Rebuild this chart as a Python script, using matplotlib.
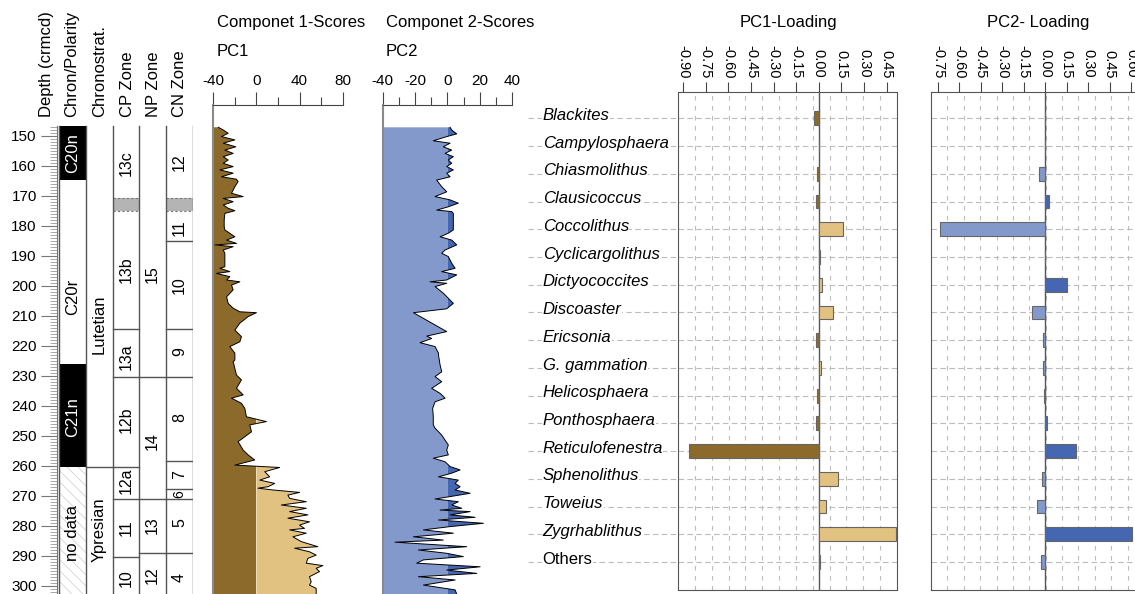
import matplotlib
matplotlib.use("Agg")
import matplotlib.pyplot as plt
import numpy as np
from matplotlib.patches import Rectangle
from matplotlib.transforms import blended_transform_factory

plt.rcParams['font.family'] = ['Liberation Sans', 'DejaVu Sans']
plt.rcParams['axes.unicode_minus'] = False
plt.rcParams['hatch.color'] = '#cccccc'
plt.rcParams['hatch.linewidth'] = 0.5

# ---------------- data ----------------
# stratigraphy (depth in crmcd)
col_top = 146.7
depth_bottom = 302.7

chron_names = ['C20n', 'C20r', 'C21n', 'no data']
chron_tops = [146.7, 164.7, 226.1, 260.2]
chron_bases = [164.7, 226.1, 260.2, 302.7]
chron_label_depth = [155.7, 203.7, 243.6, 282.4]

stage_names = ['Lutetian', 'Ypresian']
stage_bounds = [260.2]
stage_label_depth = [212.7, 281.3]

cp_names = ['13c', '13b', '13a', '12b', '12a', '11', '10']
cp_bounds = [214.4, 230.4, 260.2, 271.1, 290.4]
cp_label_depth = [159.0, 194.4, 223.6, 244.7, 265.0, 280.7, 297.3]

np_names = ['15', '14', '13', '12']
np_bounds = [230.4, 271.1, 288.9]
np_label_depth = [196.0, 251.7, 279.7, 296.3]

cn_names = ['12', '11', '10', '9', '8', '7', '6', '5', '4']
cn_bounds = [184.9, 214.4, 230.4, 258.2, 267.8, 270.9, 288.9]
cn_label_depth = [158.7, 180.7, 199.7, 222.0, 244.0, 263.0, 269.3, 279.0, 297.3]

gap_band = (170.7, 175.1)

# PC1 scores
pc1_depth = [147.1, 148.0, 149.1, 150.2, 151.3, 152.4, 153.6, 154.7, 155.8, 156.9,
             158.0, 159.1, 160.2, 161.3, 162.4, 163.6, 164.4, 165.2, 166.9, 169.1,
             170.2, 170.8, 171.9, 173.0, 174.1, 174.9, 175.8, 178.0, 180.2, 181.3,
             183.6, 184.7, 185.8, 186.3, 186.9, 188.0, 189.1, 190.2, 193.6, 194.1,
             195.2, 195.8, 196.9, 198.0, 198.6, 199.7, 201.3, 203.6, 205.8, 207.4,
             208.6, 208.9, 210.2, 212.4, 214.7, 216.9, 218.6, 220.2, 222.4, 224.7,
             225.2, 229.7, 231.3, 234.1, 236.3, 237.4, 239.1, 240.8, 243.6, 245.2,
             246.3, 248.6, 251.9, 254.7, 256.3, 258.0, 259.7, 260.5, 261.9, 263.6,
             264.7, 265.8, 266.9, 267.4, 268.0, 268.8, 269.7, 270.8, 271.9, 273.0,
             274.1, 275.2, 276.3, 277.4, 278.6, 279.7, 280.8, 281.3, 282.4, 283.6,
             285.2, 286.9, 287.4, 288.6, 289.7, 290.8, 292.4, 293.2, 294.1, 295.2,
             296.9, 298.6, 299.7, 300.8, 301.9, 302.7]
pc1_score = [-35.4, -30.8, -26.2, -32.4, -20.0, -30.8, -19.1, -29.3, -21.6, -30.8,
             -26.2, -30.8, -21.6, -33.9, -21.6, -32.4, -18.5, -17.0, -20.0, -23.1,
             -12.3, -30.8, -21.6, -30.8, -26.2, -20.0, -29.3, -29.9, -29.9, -29.3,
             -20.0, -27.7, -18.5, -38.5, -21.6, -30.8, -29.3, -29.3, -29.3, -33.9,
             -24.7, -37.0, -24.7, -27.7, -15.4, -23.1, -21.6, -27.7, -26.2, -21.6,
             -15.4, 0.0, -7.7, -15.4, -20.0, -13.9, -15.4, -24.7, -20.0, -20.0,
             -21.6, -18.5, -13.9, -18.5, -12.3, -23.1, -13.9, -10.8, -9.3, 9.2,
             -6.2, -4.6, -17.0, -12.3, -7.7, -1.6, -20.0, 21.5, 7.7, 12.3,
             3.1, 16.9, 10.8, 1.5, 15.4, 40.0, 29.2, 30.8, 46.2, 23.1,
             46.2, 30.8, 47.7, 29.2, 49.2, 40.0, 44.6, 30.8, 46.2, 33.8,
             41.5, 56.9, 35.4, 49.2, 55.4, 47.7, 46.2, 61.6, 55.4, 58.5,
             49.2, 50.8, 49.2, 55.4, 55.4, 55.4]

# PC2 scores
pc2_depth = [147.1, 148.0, 149.3, 150.2, 151.6, 152.4, 153.6, 154.7, 155.8, 156.9,
             158.0, 159.1, 160.2, 161.3, 162.4, 163.6, 164.7, 166.9, 168.6, 170.2,
             171.3, 172.4, 173.6, 174.7, 175.2, 175.8, 181.3, 182.4, 183.6, 184.7,
             186.3, 188.0, 189.1, 190.2, 192.4, 194.1, 195.2, 196.3, 198.0, 198.6,
             199.1, 200.2, 202.4, 204.7, 205.8, 207.6, 208.9, 215.2, 216.7, 217.5,
             218.9, 220.2, 222.4, 223.0, 226.3, 228.6, 230.2, 231.9, 234.1, 235.8,
             237.4, 238.6, 240.8, 243.6, 246.3, 247.4, 249.7, 253.0, 254.7, 256.3,
             257.4, 258.6, 260.2, 261.3, 262.4, 263.6, 264.7, 265.8, 266.9, 268.0,
             269.1, 270.2, 271.0, 271.9, 273.0, 274.1, 274.7, 275.2, 276.3, 277.1,
             278.0, 279.1, 280.2, 281.3, 282.4, 283.6, 284.7, 285.4, 286.9, 288.0,
             289.1, 290.2, 291.3, 292.4, 293.6, 294.7, 295.8, 296.9, 298.0, 299.7,
             301.3, 302.7]
pc2_score = [1.7, 2.7, 5.8, -0.4, -8.7, 1.7, -2.5, 2.7, -1.4, 3.7,
             0.6, 2.7, -0.4, 3.7, -0.4, 1.7, -6.6, -3.5, -0.4, -7.6,
             1.7, 6.8, 0.6, -6.6, 2.7, 3.7, 3.7, 0.6, -4.5, 2.7,
             5.8, -1.4, -3.5, 0.6, 2.7, 4.8, -3.5, 5.8, -0.4, -10.7,
             -0.4, -7.6, -2.5, 1.7, 3.7, -0.4, -21.0, -0.4, -12.8, -9.7,
             -16.9, -7.6, -5.5, -5.5, -4.5, -3.5, -7.6, -3.5, -9.7, -4.5,
             -1.4, -7.6, -9.1, -8.7, -8.7, -7.6, -3.5, 0.6, -0.4, 0.6,
             -8.7, -1.4, 1.7, 7.9, 2.7, -5.5, 6.8, 4.8, 7.9, 4.8,
             14.1, 1.7, -7.6, 6.8, 2.7, 8.9, -4.5, 14.1, 1.7, 17.2,
             -5.5, 22.3, 1.7, -14.8, 3.7, -21.0, -2.5, -32.4, 12.0, -17.9,
             -0.4, 9.9, -14.8, -19.0, 20.3, -0.4, 18.2, -17.9, 4.8, -14.8,
             4.8, 5.8]

# loadings
taxa = ['Blackites', 'Campylosphaera', 'Chiasmolithus', 'Clausicoccus', 'Coccolithus',
        'Cyclicargolithus', 'Dictyococcites', 'Discoaster', 'Ericsonia', 'G. gammation',
        'Helicosphaera', 'Ponthosphaera', 'Reticulofenestra', 'Sphenolithus', 'Toweius',
        'Zygrhablithus', 'Others']
pc1_loading = [-0.034, -0.002, -0.010, -0.020, 0.158, 0.008, 0.021, 0.091, -0.019, 0.012,
               -0.012, -0.019, -0.862, 0.125, 0.045, 0.511, 0.008]
pc2_loading = [0.0, 0.0, -0.042, 0.026, -0.734, 0.0, 0.149, -0.091, -0.014, -0.014,
               -0.009, 0.009, 0.214, -0.023, -0.056, 0.606, -0.030]

pc1_ticks = [-0.90, -0.75, -0.60, -0.45, -0.30, -0.15, 0.00, 0.15, 0.30, 0.45]
pc2_ticks = [-0.75, -0.60, -0.45, -0.30, -0.15, 0.00, 0.15, 0.30, 0.45, 0.60]

# ---------------- figure ----------------
W, H = 1135, 594
fig = plt.figure(figsize=(W / 100, H / 100), dpi=100)


def px_axes(x0, y0, x1, y1):
    return fig.add_axes([x0 / W, 1 - y1 / H, (x1 - x0) / W, (y1 - y0) / H])


brown = '#8c6a2c'
tan = '#e2c280'
blue_l = '#8499cb'
blue_d = '#4566b0'
line_c = '#555555'
depth_lim = (302.67, 139.67)

# ---- stratigraphic columns ----
ax0 = px_axes(57, 105, 193, 594)
ax0.set_xlim(57, 193)
ax0.set_ylim(*depth_lim)
for s in ['top', 'right', 'bottom']:
    ax0.spines[s].set_visible(False)
ax0.spines['left'].set_bounds(col_top, depth_lim[0])
ax0.spines['left'].set_color('#777777')
ax0.set_xticks([])
ax0.set_yticks(np.arange(150, 301, 10))
ax0.set_yticks(np.arange(147, 303, 1), minor=True)
ax0.tick_params(axis='y', which='major', length=11.5, width=0.8, color='#777777', labelsize=11, pad=3)
ax0.tick_params(axis='y', which='minor', length=5, width=0.6, color='#999999')

edges = [59, 86, 113, 139, 166, 193]
centers = [(edges[i] + edges[i + 1]) / 2 for i in range(5)]

# chron column
for name, t, b in zip(chron_names, chron_tops, chron_bases):
    if name.endswith('n') and name.startswith('C'):
        ax0.add_patch(Rectangle((edges[0], t), edges[1] - edges[0], b - t, facecolor='black', edgecolor='none'))
    elif name == 'no data':
        ax0.add_patch(Rectangle((edges[0], t), edges[1] - edges[0], b - t, facecolor='white',
                                edgecolor='#cccccc', hatch='\\\\\\', lw=0))
for name, d in zip(chron_names, chron_label_depth):
    c = 'white' if (name.startswith('C') and name.endswith('n')) else 'black'
    ax0.text(centers[0], d, name, rotation=90, ha='center', va='center', color=c, fontsize=12)

# stage column
for d in stage_bounds:
    ax0.plot([edges[1], edges[2]], [d, d], color=line_c, lw=1)
for name, d in zip(stage_names, stage_label_depth):
    ax0.text(centers[1], d, name, rotation=90, ha='center', va='center', fontsize=12)

# zone columns
for ci, names, bounds, ldep in [(2, cp_names, cp_bounds, cp_label_depth),
                                (3, np_names, np_bounds, np_label_depth),
                                (4, cn_names, cn_bounds, cn_label_depth)]:
    x0, x1 = edges[ci], edges[ci + 1]
    for d in bounds:
        ax0.plot([x0, x1], [d, d], color=line_c, lw=1)
    if ci != 3:
        ax0.add_patch(Rectangle((x0, gap_band[0]), x1 - x0, gap_band[1] - gap_band[0],
                                facecolor='#b4b4b4', edgecolor='none'))
        for d in gap_band:
            ax0.plot([x0, x1], [d, d], color='#777777', lw=0.8, ls=(0, (2, 2)))
    for name, d in zip(names, ldep):
        ax0.text((x0 + x1) / 2, d, name, rotation=90, ha='center', va='center',
                 fontsize=10 if name == '6' and ci == 4 else 11.5)

for x in edges:
    ax0.plot([x, x], [col_top, depth_lim[0]], color=line_c, lw=1)

headers = ['Depth (crmcd)', 'Chron/Polarity', 'Chronostrat.', 'CP Zone', 'NP Zone', 'CN Zone']
header_x = [47, 72, 100, 127, 153, 180]
for hx, t in zip(header_x, headers):
    fig.text(hx / W, 1 - 117 / H, t, rotation=90, ha='center', va='bottom', fontsize=12)


# ---- PC scores ----
def score_panel(x0, x1, xlim, majors, minors, depth, vals, c_neg, c_pos):
    ax = px_axes(x0, 105, x1, 594)
    ax.set_xlim(*xlim)
    ax.set_ylim(*depth_lim)
    d = np.array(depth)
    v = np.array(vals)
    neg = ax.fill_betweenx(d, xlim[0], v, facecolor=c_neg, edgecolor='none', lw=0)
    neg.set_clip_path(Rectangle((xlim[0], 100), -xlim[0], 250, transform=ax.transData))
    ax.fill_betweenx(d, 0, v, where=v > 0, interpolate=True, facecolor=c_pos, edgecolor='none', lw=0)
    ax.plot(v, d, color='black', lw=0.7)
    for s in ['right', 'bottom']:
        ax.spines[s].set_visible(False)
    ax.spines['left'].set_color('#8a8a8a')
    ax.spines['left'].set_linewidth(1.5)
    ax.spines['top'].set_color('#444444')
    ax.xaxis.tick_top()
    ax.set_xticks(majors)
    ax.set_xticks(minors, minor=True)
    ax.set_yticks([])
    ax.tick_params(axis='x', which='major', length=9.5, width=0.8, color='#444444', labelsize=11, pad=3)
    ax.tick_params(axis='x', which='minor', length=5.5, width=0.8, color='#444444')
    return ax


score_panel(213.3, 342.7, (-40, 80), [-40, 0, 40, 80], [-20, 20, 60], pc1_depth, pc1_score, brown, tan)
score_panel(382.7, 512, (-40, 40), [-40, -20, 0, 20, 40], [-30, -10, 10, 30], pc2_depth, pc2_score, blue_l, blue_d)

fig.text(217 / W, 1 - 22 / H, 'Componet 1-Scores', va='center', fontsize=12)
fig.text(217 / W, 1 - 52 / H, 'PC1', va='center', fontsize=12)
fig.text(386 / W, 1 - 22 / H, 'Componet 2-Scores', va='center', fontsize=12)
fig.text(386 / W, 1 - 52 / H, 'PC2', va='center', fontsize=12)


# ---- loadings ----
def loading_panel(x0, x1, xlim, ticks, vals, c_neg, c_pos):
    ax = px_axes(x0, 92, x1, 590)
    ax.set_xlim(*xlim)
    ax.set_ylim(17.01, -0.95)
    rows = np.arange(len(taxa))
    step = (xlim[1] - xlim[0]) / 13
    for k in range(1, 13):
        ax.axvline(xlim[0] + k * step, color='#bcbcbc', lw=0.8, ls=(0, (4, 5)), zorder=1)
    for r in rows:
        ax.axhline(r, color='#bcbcbc', lw=0.8, ls=(0, (5, 3)), zorder=1)
    ax.axvline(0, color=line_c, lw=1, zorder=2)
    cols = [c_neg if v < 0 else c_pos for v in vals]
    ax.barh(rows, vals, height=0.5, color=cols, edgecolor='#666666', lw=0.8, zorder=3)
    ax.xaxis.tick_top()
    ax.set_xticks(ticks)
    ax.set_xticklabels([f'{t:.2f}' for t in ticks], rotation=-90)
    ax.set_yticks([])
    ax.tick_params(axis='x', length=7, width=0.8, color='#444444', labelsize=10.5, pad=3)
    for s in ax.spines.values():
        s.set_color(line_c)
    return ax


ax3 = loading_panel(678, 897, (-0.933, 0.518), pc1_ticks, pc1_loading, brown, tan)
ax4 = loading_panel(931, 1144, (-0.798, 0.689), pc2_ticks, pc2_loading, blue_l, blue_d)

fig.text(788 / W, 1 - 22 / H, 'PC1-Loading', ha='center', va='center', fontsize=12)
fig.text(1038 / W, 1 - 22 / H, 'PC2- Loading', ha='center', va='center', fontsize=12)

tr = blended_transform_factory(fig.transFigure, ax3.transData)
for i, name in enumerate(taxa):
    ax3.plot([528 / W, 678 / W], [i, i], transform=tr, clip_on=False,
             color='#bcbcbc', lw=0.8, ls=(0, (5, 3)), zorder=0)
    ax3.text(542.7 / W, i + 0.06, name, transform=tr, ha='left', va='baseline',
             fontsize=12, style='normal' if name == 'Others' else 'italic', zorder=5,
             bbox=dict(facecolor='white', edgecolor='none', pad=0.3))

fig.savefig('out.png', dpi=100)
